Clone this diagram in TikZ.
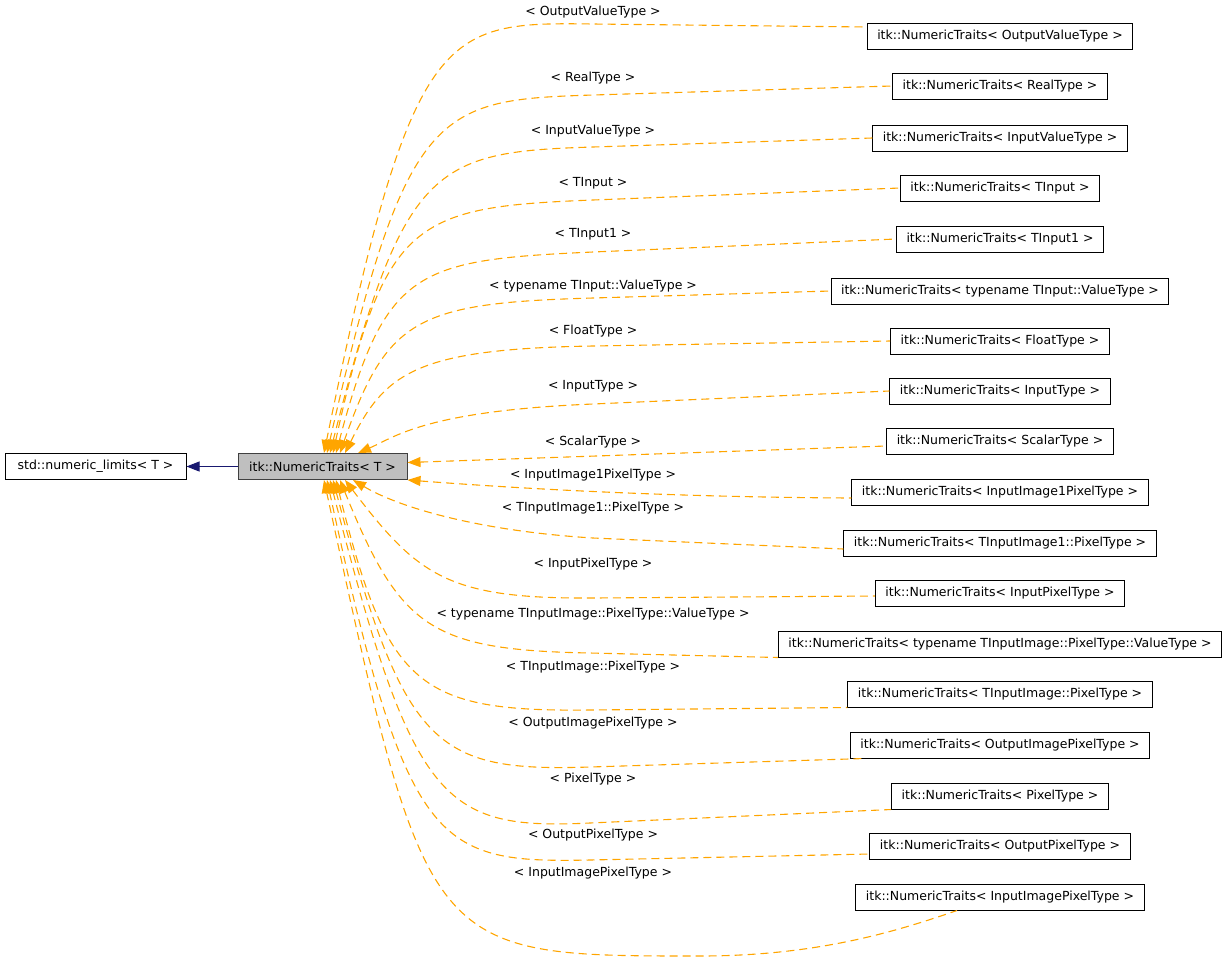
\documentclass[tikz,border=0pt]{standalone}
\usepackage{fontspec}
\setmainfont{DejaVu Sans}
\usetikzlibrary{arrows.meta}
\definecolor{depcol}{HTML}{FFA500}
\definecolor{inhcol}{HTML}{191970}
\definecolor{curfill}{HTML}{BFBFBF}
\tikzset{
  cls/.style={draw=black, line width=1pt, fill=white, inner xsep=10pt, inner ysep=0pt,
    minimum height=26pt, font=\fontsize{12.5}{15}\selectfont},
  lbl/.style={inner sep=1pt, font=\fontsize{12.5}{15}\selectfont},
  dep/.style={draw=depcol, line width=1.1pt, dash pattern=on 8pt off 5pt,
    {Triangle[length=13pt,width=10pt]}-},
  inh/.style={draw=inhcol, line width=1pt, -{Triangle[length=13pt,width=10pt]}}
}
\begin{document}
\begin{tikzpicture}[x=1pt, y=-1pt]
    \useasboundingbox (0,0) rectangle (1229,962);

    % Base classes
    \node[cls, fill=curfill, draw=black!75, minimum width=169pt] (nt) at (322.5,466.5) {itk::NumericTraits< T >};
    \node[cls, minimum width=181pt] (sl) at (95.5,466.5) {std::numeric\_limits< T >};
    \draw[inh] (nt) -- (sl);

    % Specialisations
    \node[cls] (b1) at (1000,36) {itk::NumericTraits< OutputValueType >};
    \node[cls] (b2) at (1000,86) {itk::NumericTraits< RealType >};
    \node[cls] (b3) at (1000,138) {itk::NumericTraits< InputValueType >};
    \node[cls] (b4) at (1000,188) {itk::NumericTraits< TInput >};
    \node[cls] (b5) at (1000,239) {itk::NumericTraits< TInput1 >};
    \node[cls] (b6) at (1000,291) {itk::NumericTraits< typename TInput::ValueType >};
    \node[cls] (b7) at (1000,341) {itk::NumericTraits< FloatType >};
    \node[cls] (b8) at (1000,391) {itk::NumericTraits< InputType >};
    \node[cls] (b9) at (1000,441) {itk::NumericTraits< ScalarType >};
    \node[cls] (b10) at (1000,492) {itk::NumericTraits< InputImage1PixelType >};
    \node[cls] (b11) at (1000,543) {itk::NumericTraits< TInputImage1::PixelType >};
    \node[cls] (b12) at (1000,593) {itk::NumericTraits< InputPixelType >};
    \node[cls] (b13) at (1000,644) {itk::NumericTraits< typename TInputImage::PixelType::ValueType >};
    \node[cls] (b14) at (1000,694) {itk::NumericTraits< TInputImage::PixelType >};
    \node[cls] (b15) at (1000,745) {itk::NumericTraits< OutputImagePixelType >};
    \node[cls] (b16) at (1000,796) {itk::NumericTraits< PixelType >};
    \node[cls] (b17) at (1000,846) {itk::NumericTraits< OutputPixelType >};
    \node[cls] (b18) at (1000,897) {itk::NumericTraits< InputImagePixelType >};

    % Template arguments
    \node[lbl] (l1) at (593,12) {< OutputValueType >};
    \node[lbl] (l2) at (593,78) {< RealType >};
    \node[lbl] (l3) at (593,131) {< InputValueType >};
    \node[lbl] (l4) at (593,183) {< TInput >};
    \node[lbl] (l5) at (593,234) {< TInput1 >};
    \node[lbl] (l6) at (593,286) {< typename TInput::ValueType >};
    \node[lbl] (l7) at (593,331) {< FloatType >};
    \node[lbl] (l8) at (593,386) {< InputType >};
    \node[lbl] (l9) at (593,442) {< ScalarType >};
    \node[lbl] (l10) at (593,475) {< InputImage1PixelType >};
    \node[lbl] (l11) at (593,508) {< TInputImage1::PixelType >};
    \node[lbl] (l12) at (593,564) {< InputPixelType >};
    \node[lbl] (l13) at (593,614) {< typename TInputImage::PixelType::ValueType >};
    \node[lbl] (l14) at (593,667) {< TInputImage::PixelType >};
    \node[lbl] (l15) at (593,723) {< OutputImagePixelType >};
    \node[lbl] (l16) at (593,779) {< PixelType >};
    \node[lbl] (l17) at (593,835) {< OutputPixelType >};
    \node[lbl] (l18) at (593,873) {< InputImagePixelType >};

    % Edges above the class
    \draw[dep] ([xshift=1.5pt]nt.north) .. controls (412,24) and (442,22) .. (593,24) -- ([yshift=9pt]b1.west);
    \draw[dep] ([xshift=4.5pt]nt.north) .. controls (406,106) and (436,100) .. (593,95) -- (b2.west);
    \draw[dep] ([xshift=7.5pt]nt.north) .. controls (403,164) and (433,152) .. (593,147) -- (b3.west);
    \draw[dep] ([xshift=10.5pt]nt.north) .. controls (384,219) and (414,207) .. (593,200) -- (b4.west);
    \draw[dep] ([xshift=13.5pt]nt.north) .. controls (385,269) and (415,260) .. (593,252) -- (b5.west);
    \draw[dep] ([xshift=17.5pt]nt.north) .. controls (387,318) and (417,303) .. (593,298) -- (b6.west);
    \draw[dep] ([xshift=22.5pt]nt.north) .. controls (385,373) and (415,349) .. (593,346) -- (b7.west);
    \draw[dep] ([xshift=35.5pt]nt.north) .. controls (395,437) and (425,411) .. (593,404) -- (b8.west);

    % Edges to the right side
    \draw[dep] ([yshift=4pt]nt.east) -- ([yshift=-5pt]b9.west);
    \draw[dep] (nt.south east) .. controls (500,487) and (650,497) .. ([yshift=-6pt]b10.west);
    \draw[dep] ([xshift=30.5pt]nt.south) .. controls (400,508) and (480,531) .. (593,538) -- ([yshift=-6pt]b11.west);

    % Edges below the class
    \draw[dep] ([xshift=22.5pt]nt.south) .. controls (418,576) and (448,599) .. (593,598) -- ([yshift=-3pt]b12.west);
    \draw[dep] ([xshift=17.5pt]nt.south) .. controls (400,628) and (430,650) .. (590,653) -- (b13.south west);
    \draw[dep] ([xshift=13.5pt]nt.south) .. controls (387,686) and (417,712) .. (590,710) -- (b14.south west);
    \draw[dep] ([xshift=10.5pt]nt.south) .. controls (404,748) and (434,772) .. (590,767) -- ([xshift=15pt]b15.south west);
    \draw[dep] ([xshift=7.5pt]nt.south) .. controls (413,805) and (443,830) .. (590,823) -- (b16.south west);
    \draw[dep] ([xshift=4.5pt]nt.south) .. controls (407,851) and (437,863) .. (590,860) -- ([yshift=-8pt]b17.west);
    \draw[dep] ([xshift=1.5pt]nt.south) .. controls (427,956) .. (700,956) .. controls (820,956) and (900,930) .. ([xshift=-43pt]b18.south);
\end{tikzpicture}
\end{document}
